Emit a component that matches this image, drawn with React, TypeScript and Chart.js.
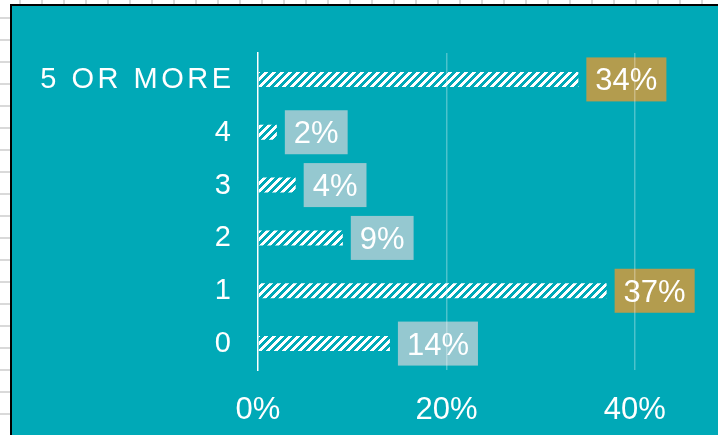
import React, { useEffect, useRef } from 'react';
import { Chart, registerables } from 'chart.js';

Chart.register(...registerables);

const categories = ['5 OR MORE', '4', '3', '2', '1', '0'];
const shares = [34, 2, 4, 9, 37, 14];
const xTickValues = [0, 20, 40];
const xMax = 45;

const boxColors = ['#B39C4E', '#95C8D0', '#95C8D0', '#95C8D0', '#B39C4E', '#95C8D0'];
const TEAL = '#00A9B7';
const FONT = '"Liberation Sans", Arial, sans-serif';
const W = 718;
const H = 435;

function makeHatch(ctx: CanvasRenderingContext2D) {
  const c = document.createElement('canvas');
  c.width = 8;
  c.height = 8;
  const g = c.getContext('2d')!;
  g.fillStyle = '#ffffff';
  for (let y = 0; y < 8; y++) {
    for (let x = 0; x < 8; x++) {
      if ((x + y) % 8 < 4) g.fillRect(x, y, 1, 1);
    }
  }
  return ctx.createPattern(c, 'repeat');
}

const boxPlugin = {
  id: 'valueBoxes',
  beforeDraw(chart: any) {
    const ctx = chart.ctx as CanvasRenderingContext2D;
    const meta = chart.getDatasetMeta(0);
    ctx.save();
    ctx.font = `31px ${FONT}`;
    meta.data.forEach((el: any, i: number) => {
      const text = shares[i] + '%';
      const tw = ctx.measureText(text).width;
      const bw = tw + 18;
      const bh = 44;
      const x0 = el.x + 8;
      const y0 = el.y - bh / 2;
      ctx.fillStyle = boxColors[i];
      ctx.fillRect(x0, y0, bw, bh);
      ctx.fillStyle = '#ffffff';
      ctx.textAlign = 'center';
      ctx.textBaseline = 'alphabetic';
      ctx.fillText(text, x0 + bw / 2, el.y + 11);
    });
    ctx.restore();
  },
};

const categoryPlugin = {
  id: 'categoryLabels',
  afterDraw(chart: any) {
    const ctx = chart.ctx as any;
    const ys = chart.scales.y;
    const right = chart.chartArea.left - 27;
    const spacing = 3.5;
    ctx.save();
    ctx.font = `29px ${FONT}`;
    ctx.fillStyle = '#ffffff';
    ctx.textBaseline = 'middle';
    ctx.textAlign = 'left';
    ctx.letterSpacing = spacing + 'px';
    categories.forEach((c, i) => {
      const y = ys.getPixelForTick(i);
      const w = ctx.measureText(c).width;
      ctx.fillText(c, right - (w - spacing), y + 0.5);
    });
    ctx.restore();
  },
};

export default function App() {
  const ref = useRef<HTMLCanvasElement>(null);

  useEffect(() => {
    const canvas = ref.current!;
    const ctx = canvas.getContext('2d')!;
    const hatch = makeHatch(ctx);
    const chart = new Chart(canvas, {
      type: 'bar',
      data: {
        labels: categories,
        datasets: [
          {
            data: shares,
            backgroundColor: hatch as any,
            borderWidth: 0,
            barPercentage: 0.285,
            categoryPercentage: 1,
          },
        ],
      },
      options: {
        indexAxis: 'y',
        responsive: false,
        animation: false,
        layout: { padding: { top: 53, right: 36, bottom: 0, left: 0 } },
        plugins: { legend: { display: false }, tooltip: { enabled: false } },
        scales: {
          x: {
            min: 0,
            max: xMax,
            afterBuildTicks: (axis: any) => {
              axis.ticks = xTickValues.map((v) => ({ value: v }));
            },
            afterFit: (axis: any) => {
              axis.height = 65;
            },
            grid: {
              color: (c: any) =>
                c.tick && c.tick.value === 0 ? 'rgba(0,0,0,0)' : 'rgba(255,255,255,0.3)',
              lineWidth: 1.5,
              drawTicks: false,
            },
            border: { display: false },
            ticks: {
              color: '#ffffff',
              font: { family: FONT, size: 31 },
              padding: 22,
              maxRotation: 0,
              autoSkip: false,
              callback: (v: any) => v + '%',
            },
          },
          y: {
            afterFit: (axis: any) => {
              axis.width = 258;
            },
            grid: { display: false, drawTicks: false },
            border: { display: true, color: '#ffffff', width: 1.5 },
            ticks: { display: false },
          },
        },
      },
      plugins: [boxPlugin, categoryPlugin],
    });
    return () => chart.destroy();
  }, []);

  return (
    <div
      style={{
        position: 'fixed',
        left: 0,
        top: 0,
        width: W,
        height: H,
        overflow: 'hidden',
        backgroundColor: '#ffffff',
        backgroundImage:
          'repeating-linear-gradient(to bottom, transparent 0px, transparent 17px, #d9d9d9 17px, #d9d9d9 19px, transparent 19px, transparent 22px), repeating-linear-gradient(to right, transparent 0px, transparent 19px, #d9d9d9 19px, #d9d9d9 21px, transparent 21px, transparent 22px)',
      }}
    >
      <div
        style={{
          position: 'absolute',
          left: 10,
          top: 4,
          right: -10,
          bottom: -10,
          background: TEAL,
          borderLeft: '2px solid #000',
          borderTop: '2px solid #000',
        }}
      />
      <canvas
        ref={ref}
        width={W}
        height={H}
        style={{ position: 'absolute', left: 0, top: 0, width: W, height: H }}
      />
    </div>
  );
}
